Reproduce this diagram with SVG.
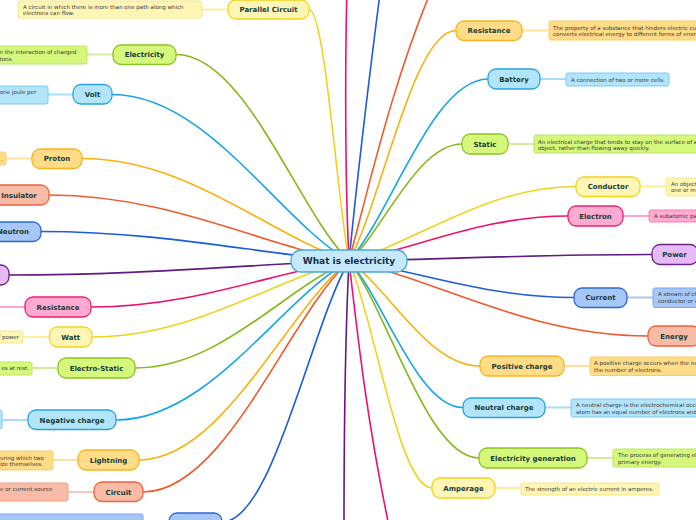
<svg xmlns="http://www.w3.org/2000/svg" width="696" height="520" viewBox="0 0 696 520">
<style>
.c path{fill:none;stroke-width:1.6}
.nl{stroke-width:2;fill:none}
.nd{stroke-width:1.3}
.nr{stroke-width:1}
.t{font-family:"DejaVu Sans",Verdana,sans-serif;font-weight:bold;font-size:7px;fill:#173b36;text-anchor:middle}
.ct{font-family:"DejaVu Sans",Verdana,sans-serif;font-weight:bold;font-size:9px;fill:#13304a;text-anchor:middle}
.nt{font-family:"DejaVu Sans",Verdana,sans-serif;font-size:5.5px;fill:#3a3a3a}
.ye .nd{fill:#fff6b6;stroke:#f2d41f}.ye .nr{fill:#fff6b6;stroke:#f9e686}.ye .nl{stroke:#fbec9e}
.gr .nd{fill:#d5f77b;stroke:#8fc425}.gr .nr{fill:#d5f77b;stroke:#bde569}.gr .nl{stroke:#d3eca0}
.lb .nd{fill:#b2e4fa;stroke:#27a4df}.lb .nr{fill:#b2e4fa;stroke:#7ccbf0}.lb .nl{stroke:#a9dcf5}
.or .nd{fill:#ffdc88;stroke:#f6b51e}.or .nr{fill:#ffdc88;stroke:#fbcd6a}.or .nl{stroke:#fde0a2}
.sa .nd{fill:#f8bba6;stroke:#ef6240}.sa .nr{fill:#f8bba6;stroke:#f59e86}.sa .nl{stroke:#f9c8b8}
.bl .nd{fill:#a6c7f7;stroke:#2b69d4}.bl .nr{fill:#a6c7f7;stroke:#7ea6ec}.bl .nl{stroke:#a9c6f3}
.pu .nd{fill:#e6baf7;stroke:#6e2382}.pu .nr{fill:#e6baf7;stroke:#b57ccb}.pu .nl{stroke:#d5a8e6}
.pi .nd{fill:#ffaad0;stroke:#ee1f74}.pi .nr{fill:#ffaad0;stroke:#f77fb0}.pi .nl{stroke:#f8a8cc}
</style>
<g id="connectors" class="c">
<path stroke="#ef0f6e" d="M349,261 C345,180 345,60 347,-10"/>
<path stroke="#1c5cd6" d="M349,261 C356,190 370,70 383,-30"/>
<path stroke="#f05a2a" d="M349,261 C368,190 395,70 440,-30"/>
<path stroke="#621a7d" d="M349,261 C345,340 344,440 344,530"/>
<path stroke="#ef0f6e" d="M349,261 C358,340 368,430 392,540"/>
<path stroke="#efd31b" d="M349,261 C337,198.1 325,9.5 309,9.5"/>
<path stroke="#86b817" d="M349,261 C297.1,209.4 245.2,54.5 176,54.5"/>
<path stroke="#16a6e6" d="M349,261 C277.9,219.4 206.8,94.5 112,94.5"/>
<path stroke="#f7b20c" d="M349,261 C268.9,235.4 188.8,158.5 82,158.5"/>
<path stroke="#f05a2a" d="M349,261 C259,244.5 169,195 49,195"/>
<path stroke="#1c5cd6" d="M349,261 C256.6,253.6 164.2,231.5 41,231.5"/>
<path stroke="#621a7d" d="M349,261 C247,264.5 145,275 9,275"/>
<path stroke="#ef0f6e" d="M349,261 C271.6,272.5 194.2,307 91,307"/>
<path stroke="#efd31b" d="M349,261 C271.9,280 194.8,337 92,337"/>
<path stroke="#86b817" d="M349,261 C284.8,287.8 220.6,368 135,368"/>
<path stroke="#16a6e6" d="M349,261 C279.1,300.8 209.2,420 116,420"/>
<path stroke="#f7b20c" d="M349,261 C286,310.8 223,460 139,460"/>
<path stroke="#f05a2a" d="M349,261 C287.2,318.8 225.4,492 143,492"/>
<path stroke="#1c5cd6" d="M349,261 C310.9,326.3 272.8,522 222,522"/>
<path stroke="#f7b20c" d="M349,261 C381.1,203.4 413.2,30.5 456,30.5"/>
<path stroke="#16a6e6" d="M349,261 C390.7,215.5 432.4,79 488,79"/>
<path stroke="#86b817" d="M349,261 C382.9,231.8 416.8,144 462,144"/>
<path stroke="#efd31b" d="M349,261 C417.1,242.4 485.2,186.5 576,186.5"/>
<path stroke="#ef0f6e" d="M349,261 C414.7,249.8 480.4,216 568,216"/>
<path stroke="#621a7d" d="M349,261 C439.9,259.4 530.8,254.5 652,254.5"/>
<path stroke="#1c5cd6" d="M349,261 C416.5,270.1 484,297.5 574,297.5"/>
<path stroke="#f05a2a" d="M349,261 C438.7,279.8 528.4,336 648,336"/>
<path stroke="#f7b20c" d="M349,261 C388.3,287.3 427.6,366 480,366"/>
<path stroke="#16a6e6" d="M349,261 C383.2,297.6 417.4,407.5 463,407.5"/>
<path stroke="#86b817" d="M349,261 C388,310.3 427,458 479,458"/>
<path stroke="#efd31b" d="M349,261 C373.9,317.8 398.8,488 432,488"/>
</g>
<g id="n-parallel-circuit" class="ye">
<path class="nl" d="M202,9.5 H228"/>
<rect class="nr" x="18" y="1" width="184" height="17" rx="2"/>
<text class="nt" x="23" y="8.6">A circuit in which there is more than one path along which</text>
<text class="nt" x="23" y="15.1">electrons can flow.</text>
<rect class="nd" x="228" y="0" width="81" height="19" rx="8"/>
<text class="t" x="268.5" y="12">Parallel Circuit</text>
</g>
<g id="n-electricity" class="gr">
<path class="nl" d="M87,54.5 H113"/>
<rect class="nr" x="-10" y="46" width="97" height="18" rx="2"/>
<text class="nt" x="-0.5" y="54">n the interaction of charged</text>
<text class="nt" x="-0.5" y="60.5">tons.</text>
<rect class="nd" x="113" y="45" width="63" height="19.5" rx="8"/>
<text class="t" x="144.5" y="57">Electricity</text>
</g>
<g id="n-volt" class="lb">
<path class="nl" d="M48,94.5 H73"/>
<rect class="nr" x="-10" y="86" width="58" height="18" rx="2"/>
<text class="nt" x="0" y="94">one joule per</text>
<rect class="nd" x="73" y="84.5" width="39" height="19.5" rx="8"/>
<text class="t" x="92.5" y="97">Volt</text>
</g>
<g id="n-proton" class="or">
<path class="nl" d="M6,158.5 H32"/>
<rect class="nr" x="-40" y="152" width="46" height="13" rx="2"/>
<text class="nt" x="1.5" y="160.5">.</text>
<rect class="nd" x="32" y="149" width="50" height="19.5" rx="8"/>
<text class="t" x="57" y="161">Proton</text>
</g>
<g id="n-insulator" class="sa">
<rect class="nd" x="-11" y="185" width="60" height="20" rx="8"/>
<text class="t" x="19" y="197.5">Insulator</text>
</g>
<g id="n-neutron" class="bl">
<rect class="nd" x="-15" y="222" width="56" height="19.5" rx="8"/>
<text class="t" x="13" y="234">Neutron</text>
</g>
<g id="n-purple-left" class="pu">
<rect class="nd" x="-40" y="265" width="49" height="20" rx="8"/>
</g>
<g id="n-resistance-left" class="pi">
<path class="nl" d="M-5,307 H25"/>
<rect class="nd" x="25" y="297" width="66" height="20" rx="8"/>
<text class="t" x="58" y="309.5">Resistance</text>
</g>
<g id="n-watt" class="ye">
<path class="nl" d="M23,337 H49.5"/>
<rect class="nr" x="-40" y="331" width="63" height="12" rx="2"/>
<text class="nt" x="19" y="339.3" text-anchor="end">of power</text>
<rect class="nd" x="49.5" y="327" width="42.5" height="20" rx="8"/>
<text class="t" x="70.7" y="339.5">Watt</text>
</g>
<g id="n-electro-static" class="gr">
<path class="nl" d="M32,368 H58"/>
<rect class="nr" x="-40" y="362" width="72" height="13" rx="2"/>
<text class="nt" x="29" y="370.3" text-anchor="end">es at rest.</text>
<rect class="nd" x="58" y="358" width="77" height="20" rx="8"/>
<text class="t" x="96.5" y="370.5">Electro-Static</text>
</g>
<g id="n-negative-charge" class="lb">
<path class="nl" d="M2,420 H28"/>
<rect class="nr" x="-40" y="410" width="42" height="19" rx="2"/>
<rect class="nd" x="28" y="410" width="88" height="19.5" rx="8"/>
<text class="t" x="72" y="422.5">Negative charge</text>
</g>
<g id="n-lightning" class="or">
<path class="nl" d="M53,460 H78"/>
<rect class="nr" x="-40" y="451" width="93" height="19" rx="2"/>
<text class="nt" x="0" y="460">uring which two</text>
<text class="nt" x="0" y="466.3">ize themselves.</text>
<rect class="nd" x="78" y="450" width="61" height="20" rx="8"/>
<text class="t" x="108.5" y="462.5">Lightning</text>
</g>
<g id="n-circuit" class="sa">
<path class="nl" d="M68,492 H94"/>
<rect class="nr" x="-40" y="483" width="108" height="18" rx="2"/>
<text class="nt" x="0" y="491.3">e or current source</text>
<rect class="nd" x="94" y="482" width="49" height="19.5" rx="8"/>
<text class="t" x="118.5" y="494.5">Circuit</text>
</g>
<g id="n-bottom-left" class="bl">
<path class="nl" d="M143,522 H169"/>
<rect class="nr" x="-10" y="514" width="153" height="20" rx="2"/>
<rect class="nd" x="169" y="513" width="53" height="20" rx="8"/>
</g>
<g id="n-resistance-right" class="or">
<path class="nl" d="M522,30.5 H549"/>
<rect class="nr" x="549" y="21" width="160" height="19" rx="2"/>
<text class="nt" x="553" y="29.5">The property of a substance that hinders electric current and</text>
<text class="nt" x="553" y="36">converts electrical energy to different forms of energy.</text>
<rect class="nd" x="456" y="21" width="66" height="19.5" rx="8"/>
<text class="t" x="489" y="33">Resistance</text>
</g>
<g id="n-battery" class="lb">
<path class="nl" d="M540,79 H566"/>
<rect class="nr" x="566" y="73" width="103" height="13" rx="2"/>
<text class="nt" x="571" y="81.5">A connection of two or more cells.</text>
<rect class="nd" x="488" y="69" width="52" height="20" rx="8"/>
<text class="t" x="514" y="81.5">Battery</text>
</g>
<g id="n-static" class="gr">
<path class="nl" d="M508,144 H534"/>
<rect class="nr" x="534" y="135" width="170" height="18" rx="2"/>
<text class="nt" x="538" y="143.6">An electrical charge that tends to stay on the surface of an</text>
<text class="nt" x="538" y="150">object, rather than flowing away quickly.</text>
<rect class="nd" x="462" y="134" width="46" height="20" rx="8"/>
<text class="t" x="485" y="146.5">Static</text>
</g>
<g id="n-conductor" class="ye">
<path class="nl" d="M640,186.5 H666"/>
<rect class="nr" x="666" y="178" width="40" height="18" rx="2"/>
<text class="nt" x="671" y="185.6">An object</text>
<text class="nt" x="671" y="192">one or more</text>
<rect class="nd" x="576" y="177" width="64" height="19.5" rx="8"/>
<text class="t" x="608" y="189">Conductor</text>
</g>
<g id="n-electron" class="pi">
<path class="nl" d="M623,216 H649"/>
<rect class="nr" x="649" y="210" width="60" height="12" rx="2"/>
<text class="nt" x="654" y="218.3">A subatomic particle</text>
<rect class="nd" x="568" y="206" width="55" height="20" rx="8"/>
<text class="t" x="595.5" y="218.5">Electron</text>
</g>
<g id="n-power" class="pu">
<rect class="nd" x="652" y="244.5" width="46" height="20" rx="8"/>
<text class="t" x="674.5" y="257">Power</text>
</g>
<g id="n-current" class="bl">
<path class="nl" d="M627,297.5 H653"/>
<rect class="nr" x="653" y="288" width="60" height="19.5" rx="2"/>
<text class="nt" x="658" y="296.3">A stream of charge</text>
<text class="nt" x="658" y="303">conductor or semiconductor</text>
<rect class="nd" x="574" y="288" width="53" height="19.5" rx="8"/>
<text class="t" x="600.5" y="300">Current</text>
</g>
<g id="n-energy" class="sa">
<rect class="nd" x="648" y="326" width="52" height="20" rx="8"/>
<text class="t" x="674" y="338.5">Energy</text>
</g>
<g id="n-positive-charge" class="or">
<path class="nl" d="M564,366 H590"/>
<rect class="nr" x="590" y="357" width="120" height="18.5" rx="2"/>
<text class="nt" x="594" y="365">A positive charge occurs when the number of protons exceeds</text>
<text class="nt" x="594" y="371.5">the number of electrons.</text>
<rect class="nd" x="480" y="356" width="84" height="20" rx="8"/>
<text class="t" x="522" y="368.5">Positive charge</text>
</g>
<g id="n-neutral-charge" class="lb">
<path class="nl" d="M545,407.5 H571"/>
<rect class="nr" x="571" y="399" width="140" height="18" rx="2"/>
<text class="nt" x="576" y="407">A neutral charge is the electrochemical occurrence in which an</text>
<text class="nt" x="576" y="413.5">atom has an equal number of electrons and protons.</text>
<rect class="nd" x="463" y="398" width="82" height="19.5" rx="8"/>
<text class="t" x="504" y="410">Neutral charge</text>
</g>
<g id="n-electricity-generation" class="gr">
<path class="nl" d="M587,458 H613"/>
<rect class="nr" x="613" y="449" width="100" height="18" rx="2"/>
<text class="nt" x="618" y="457">The process of generating electric power from sources of</text>
<text class="nt" x="618" y="463.5">primary energy.</text>
<rect class="nd" x="479" y="448" width="108" height="20" rx="8"/>
<text class="t" x="533" y="460.5">Electricity generation</text>
</g>
<g id="n-amperage" class="ye">
<path class="nl" d="M495,488 H521"/>
<rect class="nr" x="521" y="483" width="138" height="12" rx="2"/>
<text class="nt" x="525" y="491">The strength of an electric current in amperes.</text>
<rect class="nd" x="432" y="478" width="63" height="20" rx="8"/>
<text class="t" x="463.5" y="490.5">Amperage</text>
</g>
<g id="n-center">
<rect x="291" y="250" width="116" height="22" rx="10" fill="#c5e9fb" stroke="#4ba9d8" stroke-width="1.3"/>
<text class="ct" x="349" y="264.3">What is electricity</text>
</g>
</svg>
